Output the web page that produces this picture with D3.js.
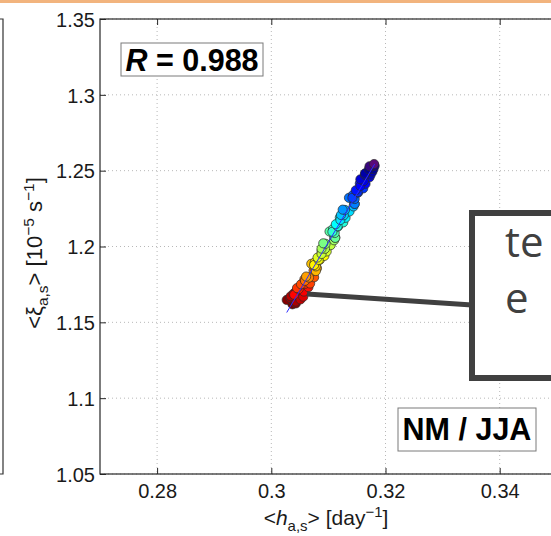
<!DOCTYPE html>
<html>
<head>
<meta charset="utf-8">
<script src="https://cdn.jsdelivr.net/npm/d3@7/dist/d3.min.js"></script>
<style>
  html, body { margin: 0; padding: 0; background: #ffffff; }
  svg { display: block; }
  .tick text { font-family: "Liberation Sans", Arial, Helvetica, sans-serif; font-size: 20px; fill: #1a1a1a; }
</style>
</head>
<body>
<svg id="chart" width="551" height="536"></svg>
<script>
// Seasonal means, ordered from the first member to the last
const hMean = [
  0.3037, 0.3027, 0.3043, 0.3033, 0.3043, 0.3034, 0.3051, 0.3039, 0.3056, 0.3043,
  0.3057, 0.3040, 0.3065, 0.3048, 0.3059, 0.3045, 0.3068, 0.3052, 0.3075, 0.3058,
  0.3059, 0.3074, 0.3066, 0.3077, 0.3061, 0.3080, 0.3078, 0.3070, 0.3078, 0.3076,
  0.3085, 0.3075, 0.3093, 0.3083, 0.3088, 0.3081, 0.3097, 0.3088, 0.3104, 0.3094,
  0.3088, 0.3110, 0.3095, 0.3112, 0.3091, 0.3110, 0.3112, 0.3102, 0.3111, 0.3108,
  0.3117, 0.3107, 0.3126, 0.3116, 0.3120, 0.3113, 0.3130, 0.3121, 0.3137, 0.3127,
  0.3122, 0.3144, 0.3129, 0.3146, 0.3125, 0.3145, 0.3146, 0.3136, 0.3146, 0.3143,
  0.3152, 0.3142, 0.3161, 0.3151, 0.3155, 0.3148, 0.3165, 0.3156, 0.3172, 0.3162,
  0.3156, 0.3174, 0.3164, 0.3177, 0.3164, 0.3179, 0.3171, 0.3181, 0.3172, 0.3180
];
const xiMean = [
  1.1619, 1.1648, 1.1625, 1.1660, 1.1637, 1.1672, 1.1651, 1.1689, 1.1669, 1.1701,
  1.1703, 1.1682, 1.1732, 1.1719, 1.1754, 1.1726, 1.1756, 1.1751, 1.1797, 1.1784,
  1.1774, 1.1841, 1.1795, 1.1851, 1.1802, 1.1857, 1.1838, 1.1886, 1.1869, 1.1895,
  1.1912, 1.1878, 1.1938, 1.1912, 1.1971, 1.1927, 1.1967, 1.1951, 1.2009, 1.1985,
  1.1986, 1.2041, 1.2018, 1.2059, 1.2021, 1.2065, 1.2057, 1.2099, 1.2089, 1.2115,
  1.2132, 1.2097, 1.2159, 1.2134, 1.2191, 1.2147, 1.2189, 1.2175, 1.2231, 1.2206,
  1.2208, 1.2264, 1.2241, 1.2281, 1.2243, 1.2289, 1.2281, 1.2321, 1.2313, 1.2339,
  1.2355, 1.2321, 1.2383, 1.2359, 1.2416, 1.2371, 1.2413, 1.2399, 1.2456, 1.2431,
  1.2443, 1.2474, 1.2471, 1.2493, 1.2482, 1.2511, 1.2510, 1.2532, 1.2529, 1.2544
];

const xTicks = [0.28, 0.30, 0.32, 0.34];
const xTickLabels = ["0.28", "0.3", "0.32", "0.34"];
const yTicks = [1.05, 1.10, 1.15, 1.20, 1.25, 1.30, 1.35];
const yTickLabels = ["1.05", "1.1", "1.15", "1.2", "1.25", "1.3", "1.35"];

const corrLabel = "0.988";
const regionLabel = "NM / JJA";
const calloutLines = ["te", "e"];
// where the callout arrow touches the cloud
const calloutAnchor = [0.30625, 1.1687];

const svg = d3.select("#chart");
const W = 551;

const x = d3.scaleLinear().domain([0.27, 0.37]).range([100, 671]);
const y = d3.scaleLinear().domain([1.05, 1.35]).range([474, 19]);

// thin accent strip along the top of the page
svg.append("rect").attr("x", 0).attr("y", 0).attr("width", W).attr("height", 3).attr("fill", "#f2b47e");

// right edge of the neighbouring panel
svg.append("path").attr("d", "M0,19 H3 V474 H0").attr("fill", "none").attr("stroke", "#333").attr("stroke-width", 1.2);

const g = svg.append("g");

// dotted grid
g.selectAll(".gx").data(xTicks).join("line")
  .attr("x1", d => x(d)).attr("x2", d => x(d))
  .attr("y1", y.range()[1]).attr("y2", y.range()[0])
  .attr("stroke", "#b8b8b8").attr("stroke-width", 1).attr("stroke-dasharray", "1,3");
g.selectAll(".gy").data(yTicks).join("line")
  .attr("x1", x.range()[0]).attr("x2", x.range()[1])
  .attr("y1", d => y(d)).attr("y2", d => y(d))
  .attr("stroke", "#b8b8b8").attr("stroke-width", 1).attr("stroke-dasharray", "1,3");

// axes with inward ticks
const axB = d3.axisBottom(x).tickValues(xTicks).tickFormat((d, i) => xTickLabels[i]).tickSizeInner(-6).tickSizeOuter(0).tickPadding(10);
const axT = d3.axisTop(x).tickValues(xTicks).tickFormat("").tickSizeInner(-6).tickSizeOuter(0);
const axL = d3.axisLeft(y).tickValues(yTicks).tickFormat((d, i) => yTickLabels[i]).tickSizeInner(-6).tickSizeOuter(0).tickPadding(5);

function styleAxis(sel) {
  sel.select(".domain").remove();
  sel.selectAll(".tick line").attr("stroke", "#262626").attr("stroke-width", 1);
}
g.append("g").attr("transform", "translate(0,474)").call(axB).call(styleAxis);
g.append("g").attr("transform", "translate(0,19)").call(axT).call(styleAxis);
g.append("g").attr("transform", "translate(100,0)").call(axL).call(styleAxis)
  .selectAll(".tick text").attr("dy", "0.36em");

// axes box
g.append("rect").attr("x", x.range()[0]).attr("y", y.range()[1])
  .attr("width", x.range()[1] - x.range()[0]).attr("height", y.range()[0] - y.range()[1])
  .attr("fill", "none").attr("stroke", "#262626").attr("stroke-width", 1.2);

// jet-like colour ramp, dark red for the first members through blue/purple for the last
const jet = d3.scaleLinear()
  .domain([0, 0.12, 0.36, 0.62, 0.86, 0.97, 1])
  .range(["#7a0000", "#ff0000", "#ffff00", "#00ffff", "#0000ff", "#00008c", "#5a0a78"])
  .interpolate(d3.interpolateRgb);

const pts = hMean.map((h, i) => ({ h, xi: xiMean[i], k: i / (hMean.length - 1) }));

g.selectAll("circle.pt").data(pts).join("circle")
  .attr("class", "pt")
  .attr("cx", d => x(d.h)).attr("cy", d => y(d.xi)).attr("r", 4.6)
  .attr("fill", d => jet(d.k))
  .attr("stroke", "#2a2a2a").attr("stroke-width", 0.7);

// least-squares fit through the cloud
const mh = d3.mean(hMean), mx = d3.mean(xiMean);
const slope = d3.sum(hMean, (h, i) => (h - mh) * (xiMean[i] - mx)) / d3.sum(hMean, h => (h - mh) ** 2);
const [h0, h1] = d3.extent(hMean);
g.append("line")
  .attr("x1", x(h0)).attr("y1", y(mx + slope * (h0 - mh)))
  .attr("x2", x(h1)).attr("y2", y(mx + slope * (h1 - mh)))
  .attr("stroke", "#2b2bff").attr("stroke-width", 1);

const fontAx = "Liberation Sans, Arial, sans-serif";

// correlation label
const rBox = g.append("g");
rBox.append("rect").attr("x", 121).attr("y", 43).attr("width", 142).attr("height", 33)
  .attr("fill", "#fff").attr("stroke", "#7a7a7a").attr("stroke-width", 1);
const rTxt = rBox.append("text").attr("x", 192).attr("y", 71).attr("text-anchor", "middle")
  .attr("font-family", fontAx).attr("font-size", 30.5).attr("font-weight", "bold").attr("fill", "#000");
rTxt.append("tspan").attr("font-style", "italic").text("R");
rTxt.append("tspan").text(" = " + corrLabel);

// region / season label
const nBox = g.append("g");
nBox.append("rect").attr("x", 398).attr("y", 408).attr("width", 138).attr("height", 43)
  .attr("fill", "#fff").attr("stroke", "#7a7a7a").attr("stroke-width", 1);
nBox.append("text").attr("x", 467).attr("y", 440).attr("text-anchor", "middle")
  .attr("font-family", fontAx).attr("font-size", 30.5).attr("font-weight", "bold").attr("fill", "#000")
  .text(regionLabel);

// axis titles
const xl = svg.append("text").attr("x", 326).attr("y", 525).attr("text-anchor", "middle")
  .attr("font-family", fontAx).attr("font-size", 21).attr("fill", "#1a1a1a");
xl.append("tspan").text("<");
xl.append("tspan").attr("font-style", "italic").text("h");
xl.append("tspan").attr("font-size", 15).attr("dy", 6).text("a,s");
xl.append("tspan").attr("dy", -6).text("> [day");
xl.append("tspan").attr("font-size", 15).attr("dy", -8).text("\u22121");
xl.append("tspan").attr("dy", 8).text("]");

const yl = svg.append("text").attr("transform", "translate(42,253) rotate(-90)").attr("text-anchor", "middle")
  .attr("font-family", fontAx).attr("font-size", 22).attr("fill", "#1a1a1a");
yl.append("tspan").text("<\u03BE");
yl.append("tspan").attr("font-size", 15.5).attr("dy", 6).text("a,s");
yl.append("tspan").attr("dy", -6).text("> [10");
yl.append("tspan").attr("font-size", 15.5).attr("dy", -8).text("\u22125");
yl.append("tspan").attr("dy", 8).text(" s");
yl.append("tspan").attr("font-size", 15.5).attr("dy", -8).text("\u22121");
yl.append("tspan").attr("dy", 8).text("]");

// callout
const ann = svg.append("g");
ann.append("line")
  .attr("x1", x(calloutAnchor[0])).attr("y1", y(calloutAnchor[1]))
  .attr("x2", 472).attr("y2", 305)
  .attr("stroke", "#404040").attr("stroke-width", 5);
ann.append("rect").attr("x", 472).attr("y", 213).attr("width", 260).attr("height", 165)
  .attr("fill", "#fff").attr("stroke", "#404040").attr("stroke-width", 6);
ann.selectAll("text.call").data(calloutLines).join("text")
  .attr("class", "call")
  .attr("x", 505).attr("y", (d, i) => 257 + i * 56)
  .attr("font-family", "Open Sans, Noto Sans, sans-serif").attr("font-size", 42).attr("fill", "#404040")
  .text(d => d);
</script>
</body>
</html>
